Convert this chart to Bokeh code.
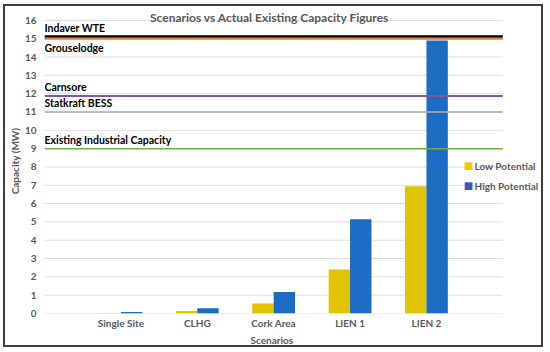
from bokeh.plotting import figure
from bokeh.models import ColumnDataSource, Range1d, FixedTicker, Label, Title
from bokeh.core.properties import value
from bokeh.embed import file_html
from bokeh.resources import INLINE

# ---- data ----
categories = ["Single Site", "CLHG", "Cork Area", "LIEN 1", "LIEN 2"]
low_potential = [0.02, 0.13, 0.54, 2.40, 6.95]
high_potential = [0.08, 0.28, 1.17, 5.15, 14.90]

ref_names = ["Indaver WTE", "Grouselodge", "Carnsore", "Statkraft BESS",
             "Existing Industrial Capacity"]
ref_values = [15.12, 15.0, 11.88, 11.0, 9.0]
ref_colors = ["#000000", "#ED7D31", "#8058A0", "#B0AAB8", "#70AD47"]
ref_widths = [2.5, 2, 2, 1.5, 1.5]
ref_label_side = ["above", "below", "above", "above", "above"]

series_names = ["Low Potential", "High Potential"]
series_bar_colors = ["#E2C400", "#1C6CC4"]
series_legend_colors = ["#FFC000", "#4050C0"]

y_ticks = list(range(0, 17))

FONT = "Lato"
GRAY = "#595959"

n = len(categories)
xpos = list(range(1, n + 1))
x_lo, x_hi = 0, n + 1          # extent of the category area
bar_w = 0.28

p = figure(width=536, height=339, output_backend="svg", toolbar_location=None,
           x_range=Range1d(0, 6.48), y_range=Range1d(0, 16.65),
           min_border_left=38, min_border_right=2, min_border_top=2,
           min_border_bottom=31)
p.styles = {"box-shadow": "0 0 0 2px #404040", "margin-left": "5px",
            "margin-top": "6px"}
p.outline_line_color = None
p.background_fill_color = "white"
p.border_fill_color = "white"
p.grid.grid_line_color = None

# axes
p.yaxis.ticker = FixedTicker(ticks=y_ticks)
p.xaxis.ticker = FixedTicker(ticks=xpos)
p.xaxis.major_label_overrides = {x: c for x, c in zip(xpos, categories)}
for ax in (p.xaxis[0], p.yaxis[0]):
    ax.axis_line_color = None
    ax.major_tick_line_color = None
    ax.minor_tick_line_color = None
    ax.major_tick_out = 0
    ax.major_tick_in = 0
    ax.minor_tick_out = 0
    ax.minor_tick_in = 0
    ax.major_label_text_font = FONT
    ax.major_label_text_font_style = "bold"
    ax.major_label_text_font_size = "10px"
    ax.major_label_text_color = GRAY
    ax.axis_label_text_font = FONT
    ax.axis_label_text_font_style = "bold"
    ax.axis_label_text_font_size = "10px"
    ax.axis_label_text_color = GRAY
p.yaxis.axis_label = "Capacity (MW)"
p.yaxis.major_label_standoff = 8
p.yaxis.axis_label_standoff = 1
p.xaxis.major_label_standoff = 3

# x-axis title, under the middle of the category area
p.add_layout(Title(text="Scenarios", align="left", offset=206, standoff=0,
                   text_font=FONT, text_font_style="bold",
                   text_font_size="10px", text_color=GRAY), "below")

# horizontal grid lines across the category area
p.segment(x0=[x_lo] * len(y_ticks), x1=[x_hi] * len(y_ticks),
          y0=y_ticks, y1=y_ticks, line_color="#DEDEDE", line_width=1)

# bars
src = ColumnDataSource(dict(
    x_low=[x - bar_w / 2 for x in xpos],
    x_high=[x + bar_w / 2 for x in xpos],
    low=low_potential, high=high_potential))
p.vbar(x="x_low", top="low", width=bar_w, source=src,
       fill_color=series_bar_colors[0], line_color=None)
p.vbar(x="x_high", top="high", width=bar_w, source=src,
       fill_color=series_bar_colors[1], line_color=None)

# reference lines
ref_src = ColumnDataSource(dict(
    x0=[x_lo] * len(ref_names), x1=[x_hi] * len(ref_names), y=ref_values,
    color=ref_colors, width=ref_widths, text=ref_names,
    base=["bottom" if s == "above" else "top" for s in ref_label_side],
    yoff=[-3 if s == "above" else 3 for s in ref_label_side]))
p.segment(x0="x0", x1="x1", y0="y", y1="y", line_color="color",
          line_width="width", source=ref_src)
p.text(x="x0", y="y", text="text", source=ref_src, text_baseline="base",
       y_offset="yoff", text_font=value(FONT), text_font_style="bold",
       text_font_size="10.5px", text_color="#000000")

# title
p.add_layout(Label(x=(x_lo + x_hi) / 2, y=y_ticks[-1], x_offset=-4, y_offset=3,
                   text="Scenarios vs Actual Existing Capacity Figures",
                   text_align="center", text_baseline="alphabetic",
                   text_font=FONT, text_font_style="bold",
                   text_font_size="12px", text_color=GRAY))

# legend
for i, (name, col) in enumerate(zip(series_names, series_legend_colors)):
    sy = 148 - 20 * i
    p.add_layout(Label(x=430, y=sy, x_units="screen", y_units="screen",
                       text=name, text_align="left", text_baseline="middle",
                       text_font=FONT, text_font_style="bold",
                       text_font_size="10px", text_color=GRAY))
    p.add_layout(Label(x=424, y=sy, x_units="screen", y_units="screen",
                       text="\u25A0", text_align="center",
                       text_baseline="middle", text_font="DejaVu Sans",
                       text_font_size="10px", text_color=col))

open("out.html", "w").write(file_html(p, INLINE))
